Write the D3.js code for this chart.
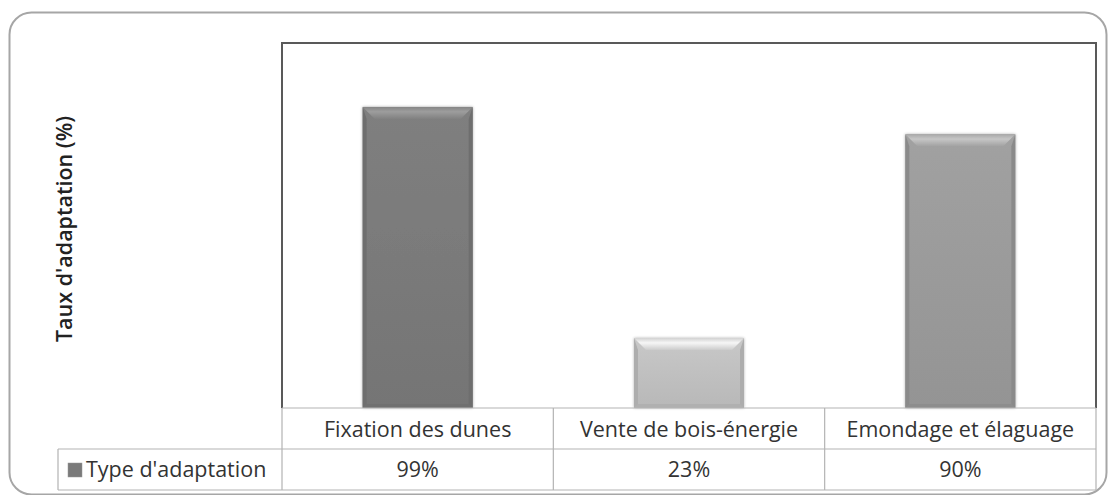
<!DOCTYPE html>
<html><head><meta charset="utf-8">
<script src="https://cdn.jsdelivr.net/npm/d3@7"></script>
<style>body{margin:0;background:#fff}svg{display:block}text{font-family:"Open Sans",sans-serif}</style>
</head><body><svg id="c" width="1116" height="495"></svg>
<script>
const categories = ["Fixation des dunes", "Vente de bois-énergie", "Emondage et élaguage"];
const values = [99, 23, 90];
const valueLabels = ["99%", "23%", "90%"];
const seriesName = "Type d'adaptation";
const yTitle = "Taux d'adaptation (%)";
const barColors = ["#7a7a7a", "#c0c0c0", "#9a9a9a"];

const svg = d3.select("#c");
const L = 282, R = 1096, T = 43, B = 408;
const rowH = 41;
const x = d3.scaleBand().domain(categories).range([L, R]).paddingInner(0).paddingOuter(0);
const y = d3.scaleLinear().domain([0, 120]).range([B, T]);
const bw = 110;

// outer frame
svg.append("rect").attr("x", 9.5).attr("y", 12.5).attr("width", 1097).attr("height", 482)
  .attr("rx", 22).attr("fill", "#fff").attr("stroke", "#a6a6a6").attr("stroke-width", 2);

const defs = svg.append("defs");
const f = defs.append("filter").attr("id", "sh").attr("x", "-20%").attr("y", "-20%").attr("width", "140%").attr("height", "140%");
f.append("feGaussianBlur").attr("in", "SourceAlpha").attr("stdDeviation", 1.5).attr("result", "b");
f.append("feComponentTransfer").attr("in", "b").attr("result", "o2").append("feFuncA").attr("type", "linear").attr("slope", 0.3);
const m = f.append("feMerge"); m.append("feMergeNode").attr("in", "o2"); m.append("feMergeNode").attr("in", "SourceGraphic");

// bars
const g = svg.append("g");
categories.forEach((c, i) => {
  const x0 = x(c) + (x.bandwidth() - bw) / 2, x1 = x0 + bw;
  const y0 = y(values[i]), y1 = y(0);
  const col = d3.color(barColors[i]);
  const gid = "gr" + i;
  const lg = defs.append("linearGradient").attr("id", gid).attr("x1", 0).attr("y1", 0).attr("x2", 0).attr("y2", 1);
  lg.append("stop").attr("offset", "0%").attr("stop-color", col.brighter(0.12).formatHex());
  lg.append("stop").attr("offset", "100%").attr("stop-color", col.darker(0.12).formatHex());
  const bg = g.append("g").attr("filter", "url(#sh)");
  bg.append("rect").attr("x", x0).attr("y", y0).attr("width", bw).attr("height", y1 - y0).attr("fill", `url(#${gid})`);
  const e = 12;
  const tg2 = "tb" + i;
  const tl = defs.append("linearGradient").attr("id", tg2).attr("x1", 0).attr("y1", 0).attr("x2", 0).attr("y2", 1);
  tl.append("stop").attr("offset", "0%").attr("stop-color", col.brighter(0.25).formatHex());
  tl.append("stop").attr("offset", "40%").attr("stop-color", col.brighter(0.7).formatHex());
  tl.append("stop").attr("offset", "100%").attr("stop-color", col.brighter(0.15).formatHex());
  bg.append("path").attr("d", `M${x0},${y0}L${x1},${y0}L${x1 - e},${y0 + e}L${x0 + e},${y0 + e}Z`).attr("fill", `url(#${tg2})`);
  bg.append("path").attr("d", `M${x0},${y0}L${x0 + 4},${y0 + e}L${x0 + 4},${y1 - 3}L${x0},${y1}Z`).attr("fill", col.darker(0.3).formatHex());
  bg.append("path").attr("d", `M${x1},${y0}L${x1 - 4},${y0 + e}L${x1 - 4},${y1 - 3}L${x1},${y1}Z`).attr("fill", col.darker(0.3).formatHex());
  bg.append("path").attr("d", `M${x0},${y1}L${x0 + 4},${y1 - 4}L${x1 - 4},${y1 - 4}L${x1},${y1}Z`).attr("fill", col.darker(0.25).formatHex());
});

// plot border (left, top, right)
svg.append("path").attr("d", `M${L},${B}L${L},${T}L${R},${T}L${R},${B}`).attr("fill", "none")
  .attr("stroke", "#595959").attr("stroke-width", 2);

// data table
const tg = svg.append("g").attr("stroke", "#b3b3b3").attr("stroke-width", 1.2).attr("fill", "none");
tg.append("line").attr("x1", L).attr("x2", R).attr("y1", B).attr("y2", B);
tg.append("line").attr("x1", 58).attr("x2", R).attr("y1", B + rowH).attr("y2", B + rowH);
tg.append("line").attr("x1", 58).attr("x2", R).attr("y1", B + 2 * rowH).attr("y2", B + 2 * rowH);
tg.append("line").attr("x1", 58).attr("x2", 58).attr("y1", B + rowH).attr("y2", B + 2 * rowH);
[L, ...categories.map(c => x(c) + x.bandwidth())].forEach(xx => {
  tg.append("line").attr("x1", xx).attr("x2", xx).attr("y1", B).attr("y2", B + 2 * rowH);
});

const fs = 21.5;
categories.forEach((c, i) => {
  svg.append("text").attr("x", x(c) + x.bandwidth() / 2).attr("y", B + 29).attr("text-anchor", "middle")
    .attr("font-size", fs).attr("fill", "#333").text(c);
  svg.append("text").attr("x", x(c) + x.bandwidth() / 2).attr("y", B + rowH + 28).attr("text-anchor", "middle")
    .attr("font-size", fs).attr("fill", "#333").text(valueLabels[i]);
});

// legend key
svg.append("rect").attr("x", 68).attr("y", B + rowH + 14).attr("width", 14).attr("height", 14).attr("fill", barColors[0]).attr("stroke", "#999").attr("stroke-width", 0.5);
svg.append("text").attr("x", 86).attr("y", B + rowH + 28).attr("font-size", fs).attr("fill", "#333").text(seriesName);

// y title
svg.append("text").attr("transform", `translate(72,229) rotate(-90)`).attr("text-anchor", "middle")
  .attr("font-size", 21.5).attr("font-weight", 600).attr("fill", "#222").text(yTitle);
</script></body></html>
